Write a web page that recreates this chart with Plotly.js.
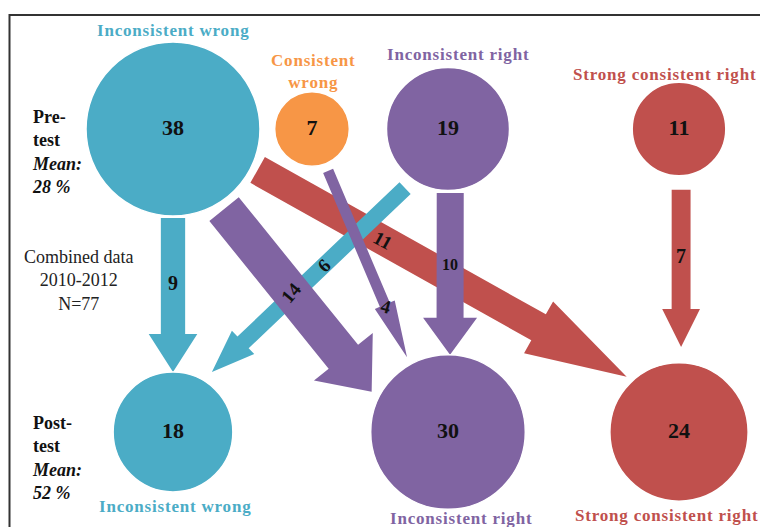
<!DOCTYPE html>
<html>
<head>
<meta charset="utf-8">
<script src="https://cdn.plot.ly/plotly-3.0.1.min.js"></script>
<style>html,body{margin:0;padding:0;background:#fff}</style>
</head>
<body>
<div id="chart" style="width:760px;height:527px"></div>
<script>
// category counts, pre-test vs post-test (combined data 2010-2012, N=77)
var categories = ['Inconsistent wrong', 'Consistent wrong', 'Inconsistent right', 'Strong consistent right'];
var preCounts = [38, 7, 19, 11];
var postCounts = [18, null, 30, 24];
var preMean = '28 %';
var postMean = '52 %';

// transitions pre -> post (indexes into categories), in drawing order
var flowFrom = [0, 2, 0, 1, 0, 2, 3];
var flowTo = [3, 0, 2, 2, 0, 2, 3];
var flowCounts = [11, 6, 14, 4, 9, 10, 7];

var colors = ['#4BACC6', '#F79646', '#8064A2', '#C0504D'];
var serif = "'Liberation Serif', 'Times New Roman', serif";

// diagram layout (pixel-like units, y down)
var colX = [173, 312, 448, 679];
var preY = 129, postY = 432;
var sizeref = 0.00251;
function radius(v) { return Math.sqrt(v / 2 / sizeref); }

// arrow placement around the circles
var tailAngle = [25.8, 126, 57.5, 69, 90, 88, 88];
var tailGap = [7, 11.5, 8, 7.6, 2, 2.5, 14];
var tipAngle = [-133.4, -57, -152.2, -118.7, -90, -88.5, -88.6];
var tipGap = [7, 11.6, 9, 8, 0, 0, 16];
var headLen = [101, 43, 45, 57, 38, 37, 38];
var labelAt = [0.34, 0.42, 0.455, 0.73, 0.42, 0.44, 0.42];
var labelAngle = [29, -45, -50, 15, 0, 0, 0];
var labelSize = [19, 19, 19, 19, 20, 16, 20];

var traces = [];
var annotations = [];

function onCircle(cx, cy, r, deg) {
  var a = deg * Math.PI / 180;
  return [cx + r * Math.cos(a), cy + r * Math.sin(a)];
}

for (var i = 0; i < flowCounts.length; i++) {
  var s = flowFrom[i], t = flowTo[i];
  var tail = onCircle(colX[s], preY, radius(preCounts[s]) + tailGap[i], tailAngle[i]);
  var tip = onCircle(colX[t], postY, radius(postCounts[t]) + tipGap[i], tipAngle[i]);
  var dx = tip[0] - tail[0], dy = tip[1] - tail[1];
  var len = Math.sqrt(dx * dx + dy * dy);
  var ux = dx / len, uy = dy / len;
  var nx = -uy, ny = ux;
  var w = 2.7 * flowCounts[i] / 2;
  var hw = 2 * w;
  var bx = tip[0] - headLen[i] * ux, by = tip[1] - headLen[i] * uy;
  var px = [tail[0] + nx * w, bx + nx * w, bx + nx * hw, tip[0], bx - nx * hw, bx - nx * w, tail[0] - nx * w, tail[0] + nx * w];
  var py = [tail[1] + ny * w, by + ny * w, by + ny * hw, tip[1], by - ny * hw, by - ny * w, tail[1] - ny * w, tail[1] + ny * w];
  traces.push({
    x: px, y: py, type: 'scatter', mode: 'lines', fill: 'toself',
    fillcolor: colors[t], line: {width: 0, color: colors[t]},
    hoverinfo: 'skip', showlegend: false
  });
  annotations.push({
    x: tail[0] + dx * labelAt[i], y: tail[1] + dy * labelAt[i],
    xref: 'x', yref: 'y', showarrow: false, textangle: labelAngle[i],
    text: '<b>' + flowCounts[i] + '</b>',
    font: {family: serif, size: labelSize[i], color: '#111'}
  });
}

// circles
var nx_ = [], ny_ = [], nv = [], nc = [], nt = [];
for (var k = 0; k < categories.length; k++) {
  nx_.push(colX[k]); ny_.push(preY); nv.push(preCounts[k]); nc.push(colors[k]); nt.push('<b>' + preCounts[k] + '</b>');
  if (postCounts[k] !== null) {
    nx_.push(colX[k]); ny_.push(postY); nv.push(postCounts[k]); nc.push(colors[k]); nt.push('<b>' + postCounts[k] + '</b>');
  }
}
traces.push({
  x: nx_, y: ny_, type: 'scatter', mode: 'markers+text',
  text: nt, textposition: 'middle center',
  textfont: {family: serif, size: 22, color: '#111'},
  marker: {size: nv, sizemode: 'area', sizeref: sizeref, color: nc, opacity: 1,
           line: {width: 1.5, color: '#ffffff'}},
  cliponaxis: false, hoverinfo: 'skip', showlegend: false
});

// category labels (offset from circle edge to label middle)
var preLabelDx = [0, 1, 10, -15];
var postLabelDx = [2, 0, 13, -13];
var preLabelOff = [12, 20, 13, 8];
var postLabelOff = [15, 0, 9, 14];
var preLabelText = ['Inconsistent wrong', 'Consistent<br>wrong', 'Inconsistent right', 'Strong consistent right'];
function spaced(txt) {
  return '<b><span style="letter-spacing:0.8px">' + txt.split('<br>').join('</span><br><span style="letter-spacing:0.8px">') + '</span></b>';
}
for (var c = 0; c < categories.length; c++) {
  annotations.push({
    x: colX[c] + preLabelDx[c], y: preY - radius(preCounts[c]) - preLabelOff[c],
    xref: 'x', yref: 'y', yanchor: 'middle', showarrow: false,
    text: spaced(preLabelText[c]),
    font: {family: serif, size: 17, color: colors[c]}
  });
  if (postCounts[c] !== null) {
    annotations.push({
      x: colX[c] + postLabelDx[c], y: postY + radius(postCounts[c]) + postLabelOff[c],
      xref: 'x', yref: 'y', yanchor: 'middle', showarrow: false,
      text: spaced(categories[c]),
      font: {family: serif, size: 17, color: colors[c]}
    });
  }
}

annotations.push({
  x: 30, y: 152, xref: 'x', yref: 'y', xanchor: 'left', align: 'left', showarrow: false,
  text: '<b>Pre-<br>test<br><i>Mean:</i><br><i>' + preMean + '</i></b>',
  font: {family: serif, size: 18, color: '#111'}
});
annotations.push({
  x: 30, y: 458, xref: 'x', yref: 'y', xanchor: 'left', align: 'left', showarrow: false,
  text: '<b>Post-<br>test<br><i>Mean:</i><br><i>' + postMean + '</i></b>',
  font: {family: serif, size: 18, color: '#111'}
});
annotations.push({
  x: 78, y: 280, xref: 'x', yref: 'y', align: 'center', showarrow: false,
  text: 'Combined data<br>2010-2012<br>N=77',
  font: {family: serif, size: 18, color: '#222'}
});

var layout = {
  width: 760,
  height: 527,
  margin: {l: 0, r: 0, t: 0, b: 0},
  paper_bgcolor: '#ffffff',
  plot_bgcolor: '#ffffff',
  xaxis: {range: [0, 760], visible: false, fixedrange: true},
  yaxis: {range: [527, 0], visible: false, fixedrange: true},
  showlegend: false,
  annotations: annotations,
  shapes: [{
    type: 'rect', xref: 'x', yref: 'y', x0: 9.5, y0: 15, x1: 800, y1: 580,
    line: {color: '#333333', width: 2}, layer: 'below'
  }]
};

Plotly.newPlot('chart', traces, layout, {staticPlot: true});
</script>
</body>
</html>
